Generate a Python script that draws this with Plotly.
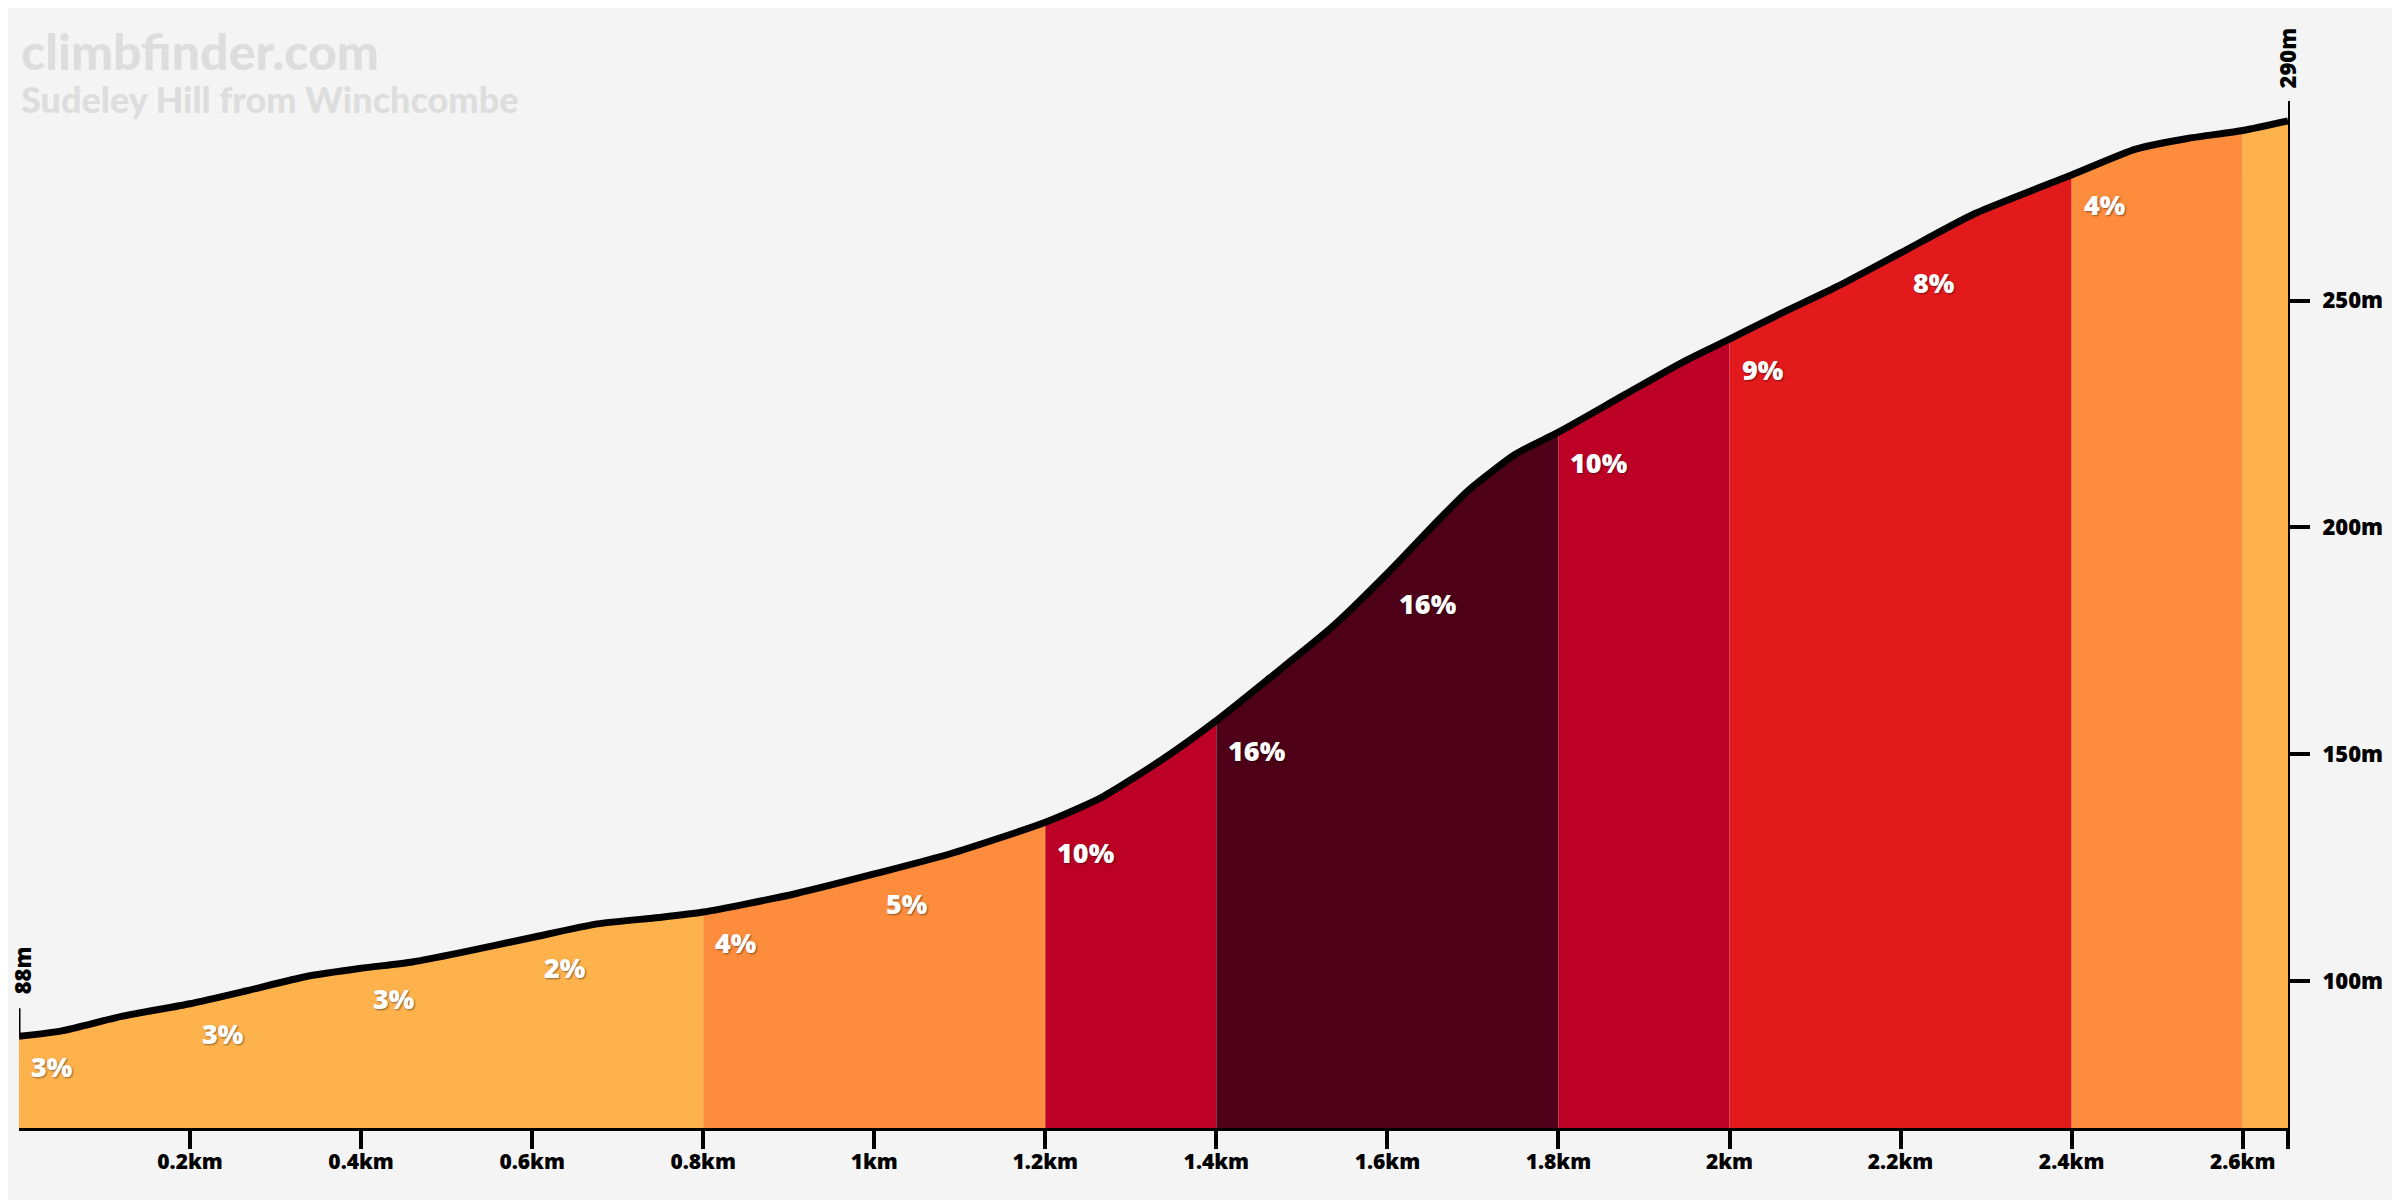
import numpy as np
import plotly.graph_objects as go

# ---- data ----
dist_km = [0, 0.05, 0.12, 0.2, 0.265, 0.336, 0.4, 0.46, 0.515, 0.6, 0.676, 0.748, 0.8,
           0.909, 1.0, 1.088, 1.2, 1.266, 1.338, 1.4, 1.463, 1.535, 1.6, 1.66, 1.696,
           1.75, 1.8, 1.875, 1.946, 2.0, 2.054, 2.125, 2.2, 2.287, 2.4, 2.475, 2.537,
           2.6, 2.653]
elev_m = [87.8, 89.0, 92.2, 95.0, 97.8, 101.0, 102.8, 104.2, 106.2, 109.6, 112.6, 114.0,
          115.2, 119.3, 123.6, 128.0, 135.0, 140.5, 149.0, 157.4, 166.9, 178.0, 189.9,
          201.7, 208.4, 216.2, 221.0, 229.0, 236.5, 241.5, 246.6, 253.0, 260.5, 269.2,
          277.7, 283.4, 285.8, 287.5, 289.6]

seg_start_km = [0, 0.2, 0.4, 0.6, 0.8, 1.0, 1.2, 1.4, 1.6, 1.8, 2.0, 2.2, 2.4, 2.6]
seg_grade = [3, 3, 3, 2, 4, 5, 10, 16, 16, 10, 9, 8, 4, 3]
seg_label = ["3%", "3%", "3%", "2%", "4%", "5%", "10%", "16%", "16%", "10%", "9%", "8%", "4%", ""]

x_tick_vals = [0.2, 0.4, 0.6, 0.8, 1.0, 1.2, 1.4, 1.6, 1.8, 2.0, 2.2, 2.4, 2.6]
x_tick_text = ["0.2km", "0.4km", "0.6km", "0.8km", "1km", "1.2km", "1.4km", "1.6km",
               "1.8km", "2km", "2.2km", "2.4km", "2.6km"]
y_tick_vals = [100, 150, 200, 250]
y_tick_text = ["100m", "150m", "200m", "250m"]

title = "climbfinder.com"
subtitle = "Sudeley Hill from Winchcombe"
start_label = "88m"
end_label = "290m"


def grade_color(g):
    if g < 4:
        return "#feb24c"
    if g < 8:
        return "#fd8d3c"
    if g < 10:
        return "#e31a1c"
    if g < 13:
        return "#bd0026"
    return "#4d0017"


d = np.array(dist_km)
e = np.array(elev_m)
end_km = dist_km[-1]
seg_end_km = seg_start_km[1:] + [end_km]

# merge consecutive segments sharing a colour
bands = []
for s, en, g in zip(seg_start_km, seg_end_km, seg_grade):
    c = grade_color(g)
    if bands and bands[-1][2] == c:
        bands[-1][1] = en
    else:
        bands.append([s, en, c])

fig = go.Figure()
SMOOTH = 0.6
for s, en, c in bands:
    m = (d >= s - 1e-9) & (d <= en + 1e-9)
    fig.add_trace(go.Scatter(x=d[m], y=e[m], mode="lines", fill="tozeroy",
                             fillcolor=c, line=dict(width=0, color=c, shape="spline",
                                                    smoothing=SMOOTH),
                             hoverinfo="skip", showlegend=False))

fig.add_trace(go.Scatter(x=d, y=e, mode="lines",
                         line=dict(color="black", width=7, shape="spline", smoothing=SMOOTH),
                         hoverinfo="skip", showlegend=False))

label_font = dict(family="Open Sans", size=27, color="white", weight=800,
                  shadow="1px 1px 2px rgba(0,0,0,0.45)")
for s, lab in zip(seg_start_km, seg_label):
    if not lab:
        continue
    y0 = float(np.interp(s, d, e))
    fig.add_annotation(x=s, y=y0, text=lab, showarrow=False, xanchor="left",
                       yanchor="middle", xshift=10, yshift=-30, font=label_font)

# start / end elevation markers
end_font = dict(family="Open Sans", size=22, color="black", weight=800)
for xv, yv, lab, ys, xs in [(dist_km[0], elev_m[0], start_label, 40, 3),
                            (end_km, elev_m[-1], end_label, 30, -1)]:
    fig.add_annotation(x=xv, y=yv, text=lab, showarrow=False, textangle=-90,
                       xanchor="center", yanchor="bottom", yshift=ys, xshift=xs, font=end_font)
fig.add_shape(type="line", xref="x", yref="y", ysizemode="pixel", yanchor=elev_m[0],
              x0=dist_km[0], x1=dist_km[0], y0=2, y1=28, line=dict(color="black", width=3))

fig.add_annotation(xref="paper", yref="paper", x=0, y=1, xanchor="left", yanchor="middle",
                   yshift=50, xshift=0, text=title, showarrow=False,
                   font=dict(family="Lato", size=50, color="#dddddd", weight=900))
fig.add_annotation(xref="paper", yref="paper", x=0, y=1, xanchor="left", yanchor="middle",
                   yshift=2, xshift=0, text=subtitle, showarrow=False,
                   font=dict(family="Lato", size=36, color="#dddddd", weight=900))

tick_font = dict(family="Open Sans", size=21, color="black", weight=800)
fig.update_xaxes(range=[0, end_km], showgrid=False, zeroline=False, showline=True,
                 linecolor="black", linewidth=3, ticks="outside", ticklen=18, tickwidth=4,
                 tickcolor="black", tickvals=x_tick_vals + [end_km], ticktext=x_tick_text + [""],
                 tickfont=tick_font, automargin=False, ticklabelstandoff=-5)
fig.update_yaxes(range=[67.6, 294], side="right", showgrid=False, zeroline=False,
                 showline=True, linecolor="black", linewidth=2, ticks="outside", ticklen=20,
                 tickwidth=4, tickcolor="black", tickvals=y_tick_vals, ticktext=y_tick_text,
                 tickfont=dict(family="Open Sans", size=22, color="black", weight=800),
                 automargin=False, ticklabelstandoff=8)

# the page body adds an 8px offset, so margins compensate for it
fig.update_layout(width=2400, height=1200, paper_bgcolor="#f4f4f4", plot_bgcolor="#f4f4f4",
                  margin=dict(l=11, r=120, t=93, b=80, autoexpand=False), showlegend=False)

fig.write_html("out.html")
